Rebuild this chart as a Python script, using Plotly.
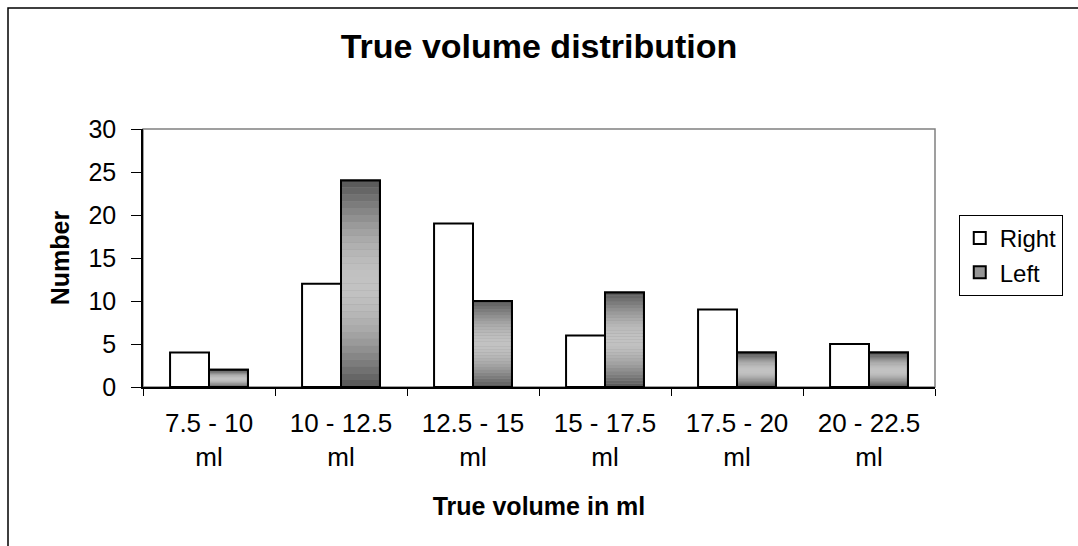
import math
import plotly.graph_objects as go

# Volume bins and counts per side
categories = ["7.5 - 10<br>ml", "10 - 12.5<br>ml", "12.5 - 15<br>ml",
              "15 - 17.5<br>ml", "17.5 - 20<br>ml", "20 - 22.5<br>ml"]
right_counts = [4, 12, 19, 6, 9, 5]
left_counts = [2, 24, 10, 11, 4, 4]

FONT = "Liberation Sans, Arial, sans-serif"
N_SEG = 30  # number of horizontal bands used to shade the Left bars


def band_color(t):
    # dark at top/bottom, light in the middle
    dark, light = 0x55, 0xC2
    v = int(round(dark + (light - dark) * math.sin(math.pi * t)))
    return f"rgb({v},{v},{v})"


fig = go.Figure()

fig.add_trace(go.Bar(
    x=categories, y=right_counts, name="Right", offsetgroup="R",
    marker=dict(color="white", line=dict(color="black", width=2)),
))

# Left bars: legend carrier underneath, then shaded bands, then outline
fig.add_trace(go.Bar(
    x=categories, y=left_counts, name="Left", offsetgroup="L",
    marker=dict(color="rgb(150,150,150)", line=dict(color="black", width=2)),
))
for k in range(N_SEG):
    fig.add_trace(go.Bar(
        x=categories,
        y=[v / N_SEG for v in left_counts],
        base=[v * k / N_SEG for v in left_counts],
        offsetgroup="L", showlegend=False, hoverinfo="skip",
        marker=dict(color=band_color((k + 0.5) / N_SEG), line=dict(width=0)),
    ))
fig.add_trace(go.Bar(
    x=categories, y=left_counts, offsetgroup="L", showlegend=False,
    marker=dict(color="rgba(0,0,0,0)", line=dict(color="black", width=2)),
))

fig.update_layout(
    width=1078, height=546,
    margin=dict(l=143, r=143, t=129, b=159),
    paper_bgcolor="white", plot_bgcolor="white",
    barmode="group", bargap=0.41, bargroupgap=0,
    font=dict(family=FONT, size=24, color="black"),
    title=dict(text="<b>True volume distribution</b>", x=0.5, xanchor="center",
               y=1 - 46 / 546, yanchor="middle",
               font=dict(family=FONT, size=34, color="black")),
    xaxis=dict(
        type="category", tickson="boundaries", ticks="outside", ticklen=7,
        tickcolor="black", tickwidth=1, showline=True, linecolor="black",
        linewidth=1.5, showgrid=False, zeroline=False,
        tickfont=dict(family=FONT, size=26), ticklabelstandoff=12,
        title=dict(text="<b>True volume in ml</b>", standoff=27,
                   font=dict(family=FONT, size=25)),
    ),
    yaxis=dict(
        range=[0, 30], tickvals=[0, 5, 10, 15, 20, 25, 30], ticks="outside",
        ticklen=10, tickcolor="black", tickwidth=1, showline=True,
        linecolor="black", linewidth=1.5, showgrid=False, zeroline=False,
        tickfont=dict(family=FONT, size=25), ticklabelstandoff=10,
        title=dict(text="<b>Number</b>", standoff=12,
                   font=dict(family=FONT, size=25)),
    ),
    legend=dict(
        x=1.03, y=0.667, xanchor="left", yanchor="top",
        bgcolor="white", bordercolor="black", borderwidth=1,
        font=dict(family=FONT, size=24), traceorder="normal",
        itemsizing="constant",
    ),
    shapes=[
        # grey frame around the plotting area
        dict(type="rect", xref="paper", yref="paper", x0=0, x1=1, y0=0, y1=1,
             line=dict(color="rgb(128,128,128)", width=1.5), layer="below"),
        # outer chart border
        dict(type="rect", xref="paper", yref="paper",
             x0=-135 / 792, x1=1.5, y0=-1.0, y1=1 + 121 / 258,
             line=dict(color="black", width=1.5), layer="below"),
    ],
)

fig.write_html("out.html")
